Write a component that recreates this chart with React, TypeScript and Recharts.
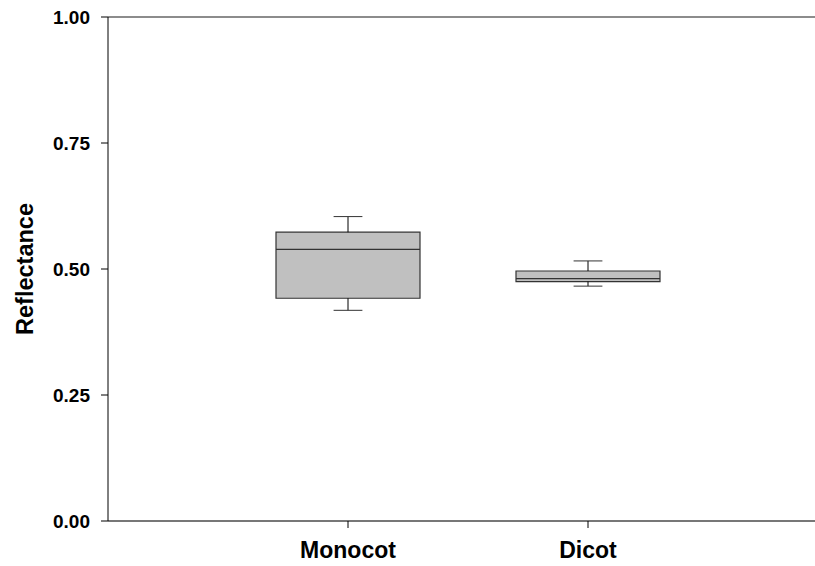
import { ComposedChart, ReferenceArea, ReferenceLine, Scatter, XAxis, YAxis } from "recharts";

// box plot summary
const categories = ["Monocot", "Dicot"];
const positions = [1, 2];
const whiskerLow = [0.418, 0.466];
const q1 = [0.442, 0.475];
const median = [0.539, 0.481];
const q3 = [0.573, 0.496];
const whiskerHigh = [0.604, 0.516];

const yTicks = [0, 0.25, 0.5, 0.75, 1];

const BOX_HALF = 0.3;
const CAP_HALF = 0.06;
const FONT = "'Liberation Sans', Arial, sans-serif";

const points = positions.map((x, i) => ({ x, y: median[i] }));

export default function App() {
  return (
    <div style={{ position: "absolute", left: 0, top: 0, width: 815, height: 566, overflow: "hidden", background: "#fff" }}>
      <ComposedChart width={828} height={566} margin={{ top: 17, right: 0, bottom: 0, left: 0 }}>
        <XAxis
          type="number"
          dataKey="x"
          height={45}
          domain={[0, 3]}
          ticks={positions}
          allowDataOverflow
          tickFormatter={(v) => categories[positions.indexOf(v)] ?? ""}
          tickSize={7}
          tickMargin={14}
          tick={{ fontSize: 23, fontWeight: "bold", fill: "#000", fontFamily: FONT }}
          axisLine={{ stroke: "#777", strokeWidth: 2 }}
          tickLine={{ stroke: "#000" }}
        />
        <YAxis
          type="number"
          dataKey="y"
          width={108}
          domain={[0, 1]}
          ticks={yTicks}
          tickFormatter={(v) => v.toFixed(2)}
          tickSize={7}
          tickMargin={11}
          tick={{ fontSize: 19, fontWeight: "bold", fill: "#000", fontFamily: FONT }}
          axisLine={{ stroke: "#000" }}
          tickLine={{ stroke: "#000" }}
          label={{
            value: "Reflectance",
            angle: -90,
            position: "insideLeft",
            offset: 25,
            style: { fontSize: 23.5, fontWeight: "bold", fill: "#000", fontFamily: FONT, textAnchor: "middle" },
          }}
        />
        <ReferenceLine y={1} stroke="#666" strokeWidth={1.5} ifOverflow="visible" />
        {positions.map((x, i) => (
          <ReferenceLine
            key={`wu-${i}`}
            segment={[{ x, y: q3[i] }, { x, y: whiskerHigh[i] }]}
            stroke="#000"
          />
        ))}
        {positions.map((x, i) => (
          <ReferenceLine
            key={`wl-${i}`}
            segment={[{ x, y: whiskerLow[i] }, { x, y: q1[i] }]}
            stroke="#000"
          />
        ))}
        {positions.map((x, i) => (
          <ReferenceLine
            key={`cu-${i}`}
            segment={[{ x: x - CAP_HALF, y: whiskerHigh[i] }, { x: x + CAP_HALF, y: whiskerHigh[i] }]}
            stroke="#333"
          />
        ))}
        {positions.map((x, i) => (
          <ReferenceLine
            key={`cl-${i}`}
            segment={[{ x: x - CAP_HALF, y: whiskerLow[i] }, { x: x + CAP_HALF, y: whiskerLow[i] }]}
            stroke="#333"
          />
        ))}
        {positions.map((x, i) => (
          <ReferenceArea
            key={`box-${i}`}
            x1={x - BOX_HALF}
            x2={x + BOX_HALF}
            y1={q1[i]}
            y2={q3[i]}
            fill="#c0c0c0"
            fillOpacity={1}
            stroke="#333"
            strokeWidth={1.2}
          />
        ))}
        {positions.map((x, i) => (
          <ReferenceLine
            key={`med-${i}`}
            segment={[{ x: x - BOX_HALF, y: median[i] }, { x: x + BOX_HALF, y: median[i] }]}
            stroke="#333"
            strokeWidth={1.2}
          />
        ))}
        <Scatter data={points} isAnimationActive={false} shape={() => <g />} />
      </ComposedChart>
    </div>
  );
}
